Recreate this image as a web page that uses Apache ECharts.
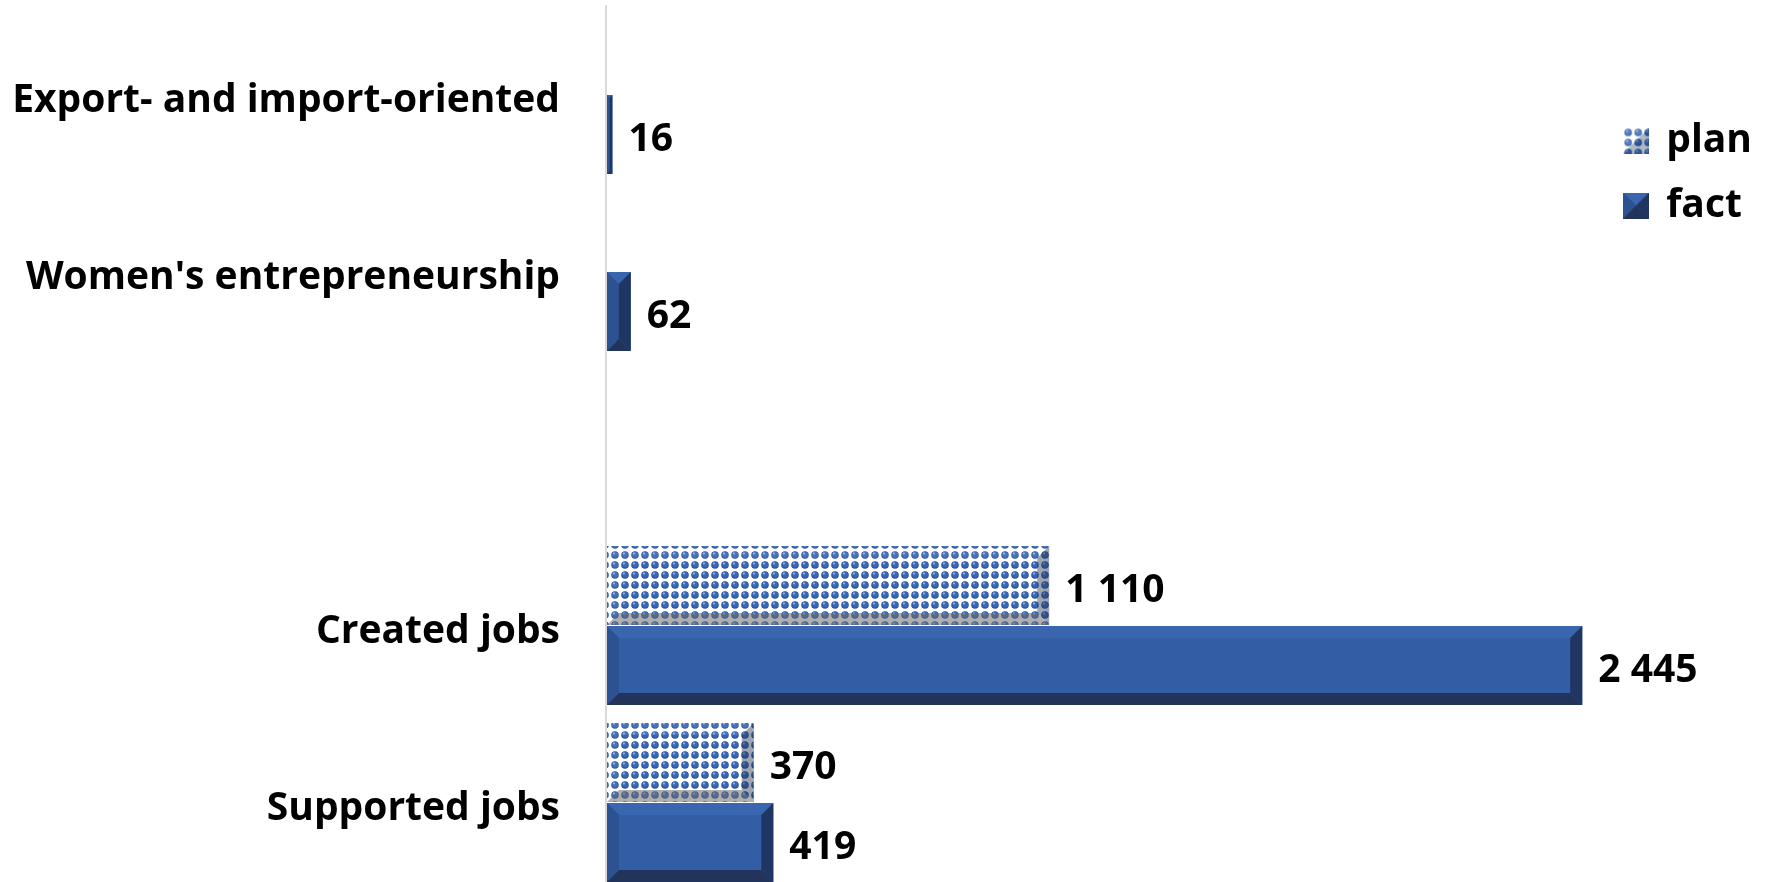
<!DOCTYPE html>
<html>
<head>
<meta charset="utf-8">
<script src="https://cdn.jsdelivr.net/npm/echarts@6/dist/echarts.min.js"></script>
<style>
  html, body { margin: 0; padding: 0; background: #fff; }
  #chart { width: 1768px; height: 882px; }
</style>
</head>
<body>
<div id="chart"></div>
<script>
// data, bottom to top
var categories = ['Supported jobs', 'Created jobs', '', "Women's entrepreneurship", 'Export- and import-oriented'];
var planValues = [370, 1110, null, null, null];
var factValues = [419, 2445, null, 62, 16];
var seriesNames = ['plan', 'fact'];

var FONT = '"Open Sans", "Noto Sans", sans-serif';
var FONT_SIZE = 39;
var BAR_H = 79;
var BEVEL = 12;

// dotted "ball" pattern used for plan bars
function makePattern() {
  var c = document.createElement('canvas');
  c.width = 10; c.height = 10;
  var ctx = c.getContext('2d');
  ctx.fillStyle = '#ffffff';
  ctx.fillRect(0, 0, 10, 10);
  ctx.fillStyle = '#2a55a0';
  ctx.beginPath();
  ctx.arc(5, 5, 3.8, 0, Math.PI * 2);
  ctx.fill();
  ctx.fillStyle = '#3a68b6';
  ctx.beginPath();
  ctx.arc(5, 4.6, 2.8, 0, Math.PI * 2);
  ctx.fill();
  ctx.fillStyle = 'rgba(175,200,240,0.9)';
  ctx.beginPath();
  ctx.arc(3.9, 3.5, 1.0, 0, Math.PI * 2);
  ctx.fill();
  return c;
}
var pattern = makePattern();

// small bevelled legend icons
function makeIcon(isPlan) {
  var s = 26, b = 13;
  var c = document.createElement('canvas');
  c.width = s; c.height = s;
  var ctx = c.getContext('2d');
  ctx.fillStyle = isPlan ? ctx.createPattern(pattern, 'repeat') : '#335ea6';
  ctx.fillRect(0, 0, s, s);
  function tri(pts, fill) {
    ctx.fillStyle = fill;
    ctx.beginPath();
    ctx.moveTo(pts[0][0], pts[0][1]);
    pts.slice(1).forEach(function (p) { ctx.lineTo(p[0], p[1]); });
    ctx.closePath();
    ctx.fill();
  }
  if (isPlan) {
    tri([[s, 0], [s, s], [0, s]], 'rgba(30,50,90,0.35)');
    tri([[0, 0], [s, 0], [0, s]], 'rgba(255,255,255,0.15)');
  } else {
    tri([[0, 0], [s, 0], [b, b]], '#3a66b0');
    tri([[0, 0], [b, b], [0, s]], '#2c5292');
    tri([[s, 0], [s, s], [b, b]], '#1f3562');
    tri([[0, s], [s, s], [b, b]], '#22345a');
  }
  return 'image://' + c.toDataURL();
}

function toData(arr) {
  var out = [];
  arr.forEach(function (v, i) { if (v != null) out.push([i, v]); });
  return out;
}

function fmt(v) {
  return String(v).replace(/\B(?=(\d{3})+(?!\d))/g, ' ');
}

// bevelled bar: main rect plus four edge facets
function bevelBar(isPlan) {
  return function (params, api) {
    var cat = api.value(0), val = api.value(1);
    var p0 = api.coord([0, cat]);
    var p1 = api.coord([val, cat]);
    var x0 = p0[0] + 1, x1 = p1[0];
    var y0 = isPlan ? p0[1] - BAR_H - 0.5 : p0[1] + 0.5;
    var y1 = y0 + BAR_H;
    var w = x1 - x0;
    var b = Math.min(BEVEL, w / 2);
    var children = [];
    var base = isPlan ? { image: pattern, repeat: 'repeat' } : '#335ea6';
    children.push({ type: 'rect', shape: { x: x0, y: y0, width: w, height: BAR_H }, style: { fill: base } });
    var facets = isPlan ? {
      top: 'rgba(255,255,255,0.08)', left: 'rgba(255,255,255,0.05)',
      right: 'rgba(40,55,85,0.45)', bottom: 'rgba(110,110,110,0.55)'
    } : {
      top: '#3a66b0', left: '#2c5292', right: '#1f3562', bottom: '#22345a'
    };
    children.push({ type: 'polygon', shape: { points: [[x0, y0], [x1, y0], [x1 - b, y0 + b], [x0 + b, y0 + b]] }, style: { fill: facets.top } });
    children.push({ type: 'polygon', shape: { points: [[x0, y0], [x0 + b, y0 + b], [x0 + b, y1 - b], [x0, y1]] }, style: { fill: facets.left } });
    children.push({ type: 'polygon', shape: { points: [[x1, y0], [x1, y1], [x1 - b, y1 - b], [x1 - b, y0 + b]] }, style: { fill: facets.right } });
    children.push({ type: 'polygon', shape: { points: [[x0, y1], [x1, y1], [x1 - b, y1 - b], [x0 + b, y1 - b]] }, style: { fill: facets.bottom } });
    children.push({
      type: 'text',
      style: {
        text: fmt(val), x: x1 + 16, y: y0 + BAR_H / 2 + 5,
        align: 'left', verticalAlign: 'middle',
        fill: '#000', font: 'bold ' + FONT_SIZE + 'px ' + FONT
      }
    });
    return { type: 'group', children: children };
  };
}

var chart = echarts.init(document.getElementById('chart'));

var option = {
  animation: false,
  legend: {
    data: [
      { name: seriesNames[0], icon: makeIcon(true) },
      { name: seriesNames[1], icon: makeIcon(false) }
    ],
    orient: 'vertical',
    right: 11,
    top: 116,
    itemWidth: 26,
    itemHeight: 26,
    itemGap: 26,
    textStyle: { fontFamily: FONT, fontWeight: 'bold', fontSize: FONT_SIZE, color: '#000', padding: [0, 0, 0, 12] }
  },
  grid: { left: 606, top: 6, height: 885, width: 1118, containLabel: false, outerBoundsMode: 'none' },
  xAxis: { type: 'value', min: 0, max: 2800, show: false },
  yAxis: {
    type: 'category',
    data: categories,
    axisLine: { show: true, lineStyle: { color: '#d9d9d9', width: 2 } },
    axisTick: { show: false },
    axisLabel: {
      margin: 46, color: '#000', fontFamily: FONT, fontWeight: 'bold', fontSize: FONT_SIZE,
      verticalAlign: 'top', lineHeight: 12
    }
  },
  series: [
    {
      name: 'plan',
      type: 'custom',
      renderItem: bevelBar(true),
      encode: { x: 1, y: 0 },
      itemStyle: { color: { image: pattern, repeat: 'repeat' } },
      data: toData(planValues)
    },
    {
      name: 'fact',
      type: 'custom',
      renderItem: bevelBar(false),
      encode: { x: 1, y: 0 },
      itemStyle: { color: '#2f5597' },
      data: toData(factValues)
    }
  ]
};

chart.setOption(option);
</script>
</body>
</html>
